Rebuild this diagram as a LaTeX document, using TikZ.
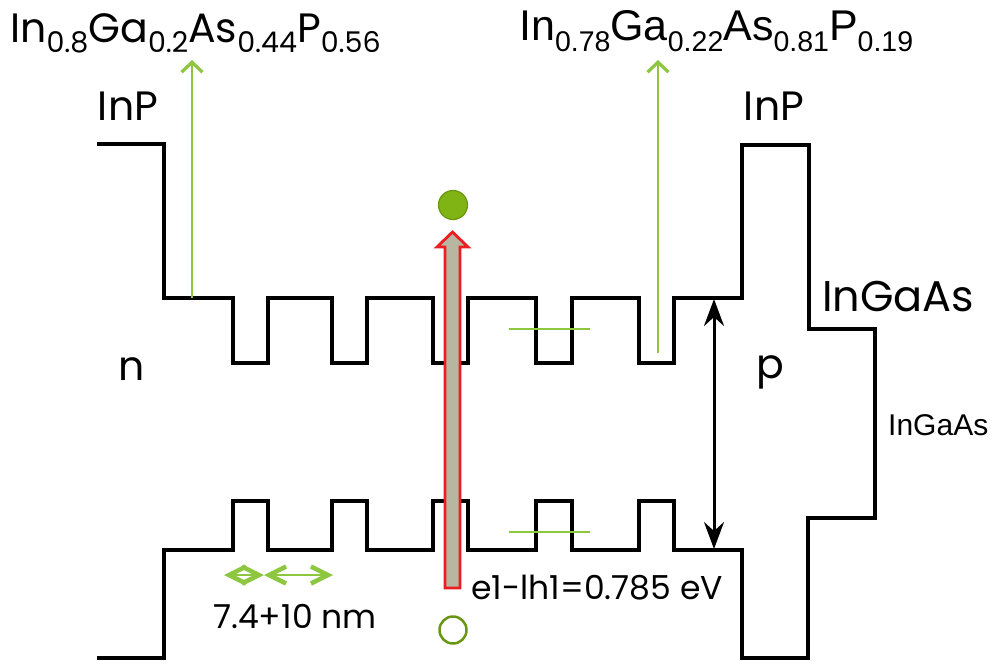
\documentclass[tikz,border=0pt]{standalone}
\usepackage{fontspec}
\setmainfont{Poppins}
\newfontfamily\arialf{Liberation Sans}
\usetikzlibrary{arrows.meta}
\definecolor{lime}{RGB}{141,198,63}
\definecolor{dotgreen}{RGB}{128,180,20}
\definecolor{dotedge}{RGB}{104,150,16}
\definecolor{shaft}{RGB}{184,182,160}
\definecolor{redline}{RGB}{235,30,35}
\newcommand\lsub[1]{\raisebox{-0.25em}{\fontsize{28.5pt}{28.5pt}\selectfont #1}}
\newcommand\rsub[1]{\raisebox{-0.26em}{\fontsize{28.5pt}{28.5pt}\selectfont #1}}
\tikzset{
  band/.style={line width=3.3pt, line join=miter, draw=black},
  greenline/.style={draw=lime, line width=1.8pt},
  greenup/.style={draw=lime, line width=1.8pt, -{Straight Barb[length=10pt,width=21pt,line width=3.2pt]}},
  dimarrow/.style={draw=lime, line width=1.8pt, {Straight Barb[length=17pt,width=17pt,line width=4.5pt]}-{Straight Barb[length=17pt,width=17pt,line width=4.5pt]}},
  gaparrow/.style={draw=black, line width=3pt, {Stealth[length=27pt,width=20pt,inset=9pt]}-{Stealth[length=27pt,width=20pt,inset=9pt]}},
  biglabel/.style={inner sep=0pt, font=\fontsize{41pt}{41pt}\selectfont},
  arlabel/.style={inner sep=0pt, font=\arialf\fontsize{43pt}{43pt}\selectfont},
}
\begin{document}
\begin{tikzpicture}[x=1pt,y=-1pt]
\useasboundingbox (0,0) rectangle (992,664);
% band profile
\draw[band] (97,144) -- (164,144) -- (164,298)
  -- (233,298) -- (233,363) -- (268,363) -- (268,298)
  -- (332,298) -- (332,363) -- (367,363) -- (367,298)
  -- (433,298) -- (433,363) -- (468,363) -- (468,298)
  -- (536,298) -- (536,363) -- (572,363) -- (572,298)
  -- (639,298) -- (639,363) -- (674,363) -- (674,298)
  -- (742,298) -- (742,145) -- (809,145) -- (809,329) -- (875,329)
  -- (875,518) -- (808,518) -- (808,658) -- (742,658) -- (742,550)
  -- (674,550) -- (674,501) -- (639,501) -- (639,550)
  -- (572,550) -- (572,501) -- (536,501) -- (536,550)
  -- (468,550) -- (468,501) -- (433,501) -- (433,550)
  -- (367,550) -- (367,501) -- (332,501) -- (332,550)
  -- (268,550) -- (268,501) -- (233,501) -- (233,550)
  -- (164,550) -- (164,658) -- (97,658);
% levels
\coordinate (e1a) at (509,329); \coordinate (e1b) at (590,329);
\coordinate (h1a) at (509,532); \coordinate (h1b) at (590,532);
\draw[greenline] (e1a) -- (e1b);
\draw[greenline] (h1a) -- (h1b);
% composition labels
\node[biglabel, anchor=base west] (lq) at (10,42) {In\lsub{0.8}Ga\lsub{0.2}As\lsub{0.44}P\lsub{0.56}};
\node[arlabel, anchor=base west] (rq) at (519,40) {In\rsub{0.78}Ga\rsub{0.22}As\rsub{0.81}P\rsub{0.19}};
\coordinate (lfoot) at (192,298); \coordinate (ltip) at (192,60);
\coordinate (rfoot) at (658,353); \coordinate (rtip) at (658,60);
\draw[greenup] (lfoot) -- (ltip);
\draw[greenup] (rfoot) -- (rtip);
% other labels
\node[biglabel, anchor=base] (inpl) at (128,120) {InP};
\node[biglabel, anchor=base] (inpr) at (774,120) {InP};
\node[biglabel, anchor=base] (nl) at (132,380) {n};
\node[biglabel, anchor=base] (pl) at (770,378) {p};
\node[inner sep=0pt, anchor=base west, font=\fontsize{43pt}{43pt}\selectfont] (iga1) at (822,311) {InGaAs};
\node[inner sep=0pt, anchor=base west, font=\arialf\fontsize{30pt}{30pt}\selectfont] (iga2) at (888,435) {InGaAs};
\node[inner sep=0pt, anchor=base west, font=\fontsize{33pt}{33pt}\selectfont] (dim) at (213,628) {7.4+10 nm};
\node[inner sep=0pt, anchor=base west, font=\fontsize{33pt}{33pt}\selectfont] (trans) at (471,599) {e1-lh1=0.785 eV};
% gap arrow
\coordinate (gtop) at (714,299); \coordinate (gbot) at (714,549);
\draw[gaparrow] (gtop) -- (gbot);
% dimension arrows
\coordinate (d1) at (224,575); \coordinate (d2) at (264,575); \coordinate (d3) at (333,575);
\draw[dimarrow] (d1) -- (d2);
\draw[dimarrow] (d2) -- (d3);
% excitation arrow
\draw[draw=redline, fill=shaft, line width=2.8pt, line join=miter]
  (445,588) -- (445,247) -- (437,247) -- (452.5,232) -- (468,247) -- (460,247) -- (460,588) -- cycle;
\node[circle, draw=dotedge, fill=dotgreen, line width=1.2pt, minimum size=29pt, inner sep=0pt] (elec) at (453,205) {};
\node[circle, draw=dotedge, line width=2.5pt, minimum size=27pt, inner sep=0pt] (hole) at (453,630) {};
\end{tikzpicture}
\end{document}
